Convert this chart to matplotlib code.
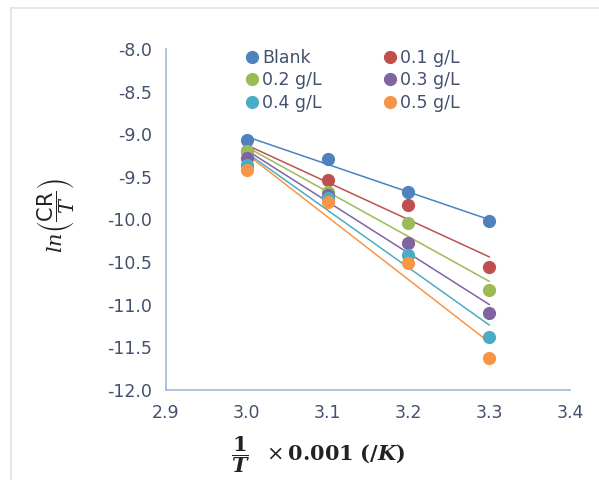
import numpy as np
import matplotlib
matplotlib.use("Agg")
import matplotlib.pyplot as plt
from matplotlib.lines import Line2D

x_vals = [3.0, 3.1, 3.2, 3.3]
series_names = ["Blank", "0.1 g/L", "0.2 g/L", "0.3 g/L", "0.4 g/L", "0.5 g/L"]
blank = [-9.07, -9.29, -9.68, -10.02]
c01 = [-9.20, -9.54, -9.83, -10.56]
c02 = [-9.20, -9.68, -10.04, -10.83]
c03 = [-9.28, -9.71, -10.28, -11.10]
c04 = [-9.36, -9.75, -10.42, -11.38]
c05 = [-9.42, -9.79, -10.51, -11.63]
series = [blank, c01, c02, c03, c04, c05]
colors = ["#4F81BD", "#C0504D", "#9BBB59", "#8064A2", "#4BACC6", "#F79646"]
xticks = [2.9, 3.0, 3.1, 3.2, 3.3, 3.4]
yticks = [-8.0, -8.5, -9.0, -9.5, -10.0, -10.5, -11.0, -11.5, -12.0]

plt.rcParams['mathtext.fontset'] = 'dejavuserif'
fig = plt.figure(figsize=(5.99, 4.8), dpi=100)
ax = fig.add_axes([166/599, 1-390/480, (570-166)/599, (390-49)/480])

xs = np.array(x_vals)
for vals, col in zip(series, colors):
    ys = np.array(vals)
    m, b = np.polyfit(xs, ys, 1)
    ax.plot(xs, m*xs + b, color=col, lw=1.1, zorder=2)
for vals, col in zip(series, colors):
    ax.plot(x_vals, vals, 'o', color=col, ms=8.5, zorder=3)

ax.set_xlim(2.9, 3.4)
ax.set_ylim(-12.0, -8.0)
ax.set_xticks(xticks)
ax.set_yticks(yticks)
ax.set_xticklabels([f"{v:.1f}" for v in xticks])
ax.set_yticklabels([f"{v:.1f}" for v in yticks])
tc = "#43506e"
ax.tick_params(length=0, labelsize=12.5, labelcolor=tc, pad=10)
for s in ["top", "right"]:
    ax.spines[s].set_visible(False)
for s in ["left", "bottom"]:
    ax.spines[s].set_color("#9cb9dd")
    ax.spines[s].set_linewidth(1.2)

# legend (row-wise order as in reference)
order = [0, 2, 4, 1, 3, 5]
handles = [Line2D([], [], marker='o', ls='none', color=colors[i], ms=8.5) for i in order]
labels = [series_names[i] for i in order]
leg = ax.legend(handles, labels, ncol=2, loc='upper left',
                bbox_to_anchor=(0.17, 1.02), frameon=False, fontsize=12.5,
                handletextpad=0.0, columnspacing=3.3, labelspacing=0.25,
                handlelength=1.2, borderaxespad=0)
for t in leg.get_texts():
    t.set_color(tc)

fig.text(56/599, 1-215/480, r'$ln\left(\dfrac{\mathsf{CR}}{T}\right)$',
         rotation=90, ha='center', va='center', fontsize=15, color='#222222')
fig.text(318/599, 1-455/480,
         r'$\dfrac{\mathbf{1}}{\mathbfit{T}}\ \ \times\mathbf{0.001}\ \mathbf{(/}\mathbfit{K}\mathbf{)}$',
         ha='center', va='center', fontsize=15, color='#222222')

# faint outer frame
fig.add_artist(Line2D([11/599, 1], [1-8/480, 1-8/480], color="#dde4ee", lw=1.2))
fig.add_artist(Line2D([11/599, 11/599], [0, 1-8/480], color="#dde4ee", lw=1.2))

fig.savefig("out.png", dpi=100)
